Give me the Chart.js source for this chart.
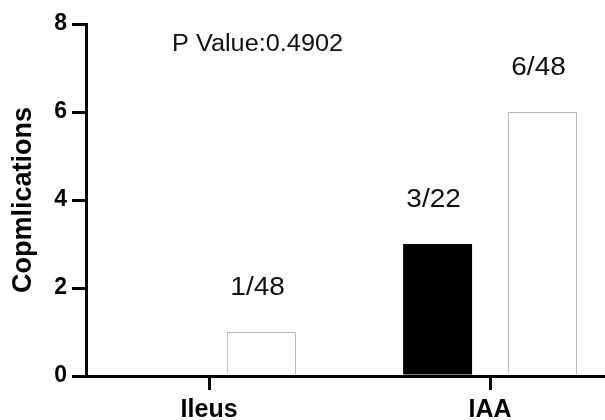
<!DOCTYPE html>
<html>
<head>
<meta charset="utf-8">
<script src="https://cdn.jsdelivr.net/npm/chart.js@4"></script>
<style>
  html, body { margin: 0; padding: 0; background: #fff; overflow: hidden; }
  #wrap { width: 605px; height: 436px; position: relative; }
</style>
</head>
<body>
<div id="wrap"><canvas id="chart"></canvas></div>
<script>
"use strict";

// ── Data ──
const CATEGORIES   = ["Ileus", "IAA"];
const BLACK_VALUES = [0, 3];
const WHITE_VALUES = [1, 6];
const BLACK_LABELS = ["", "3/22"];
const WHITE_LABELS = ["1/48", "6/48"];
const Y_TICKS      = [0, 2, 4, 6, 8];
const P_TEXT       = "P Value:0.4902";

const FONT = "Arial, 'Liberation Sans', sans-serif";

// ── text over the bars + p value note ──
const barTextPlugin = {
  id: "barText",
  afterDatasetsDraw(chart) {
    const ctx = chart.ctx;
    const area = chart.chartArea;
    ctx.save();
    ctx.fillStyle = "#111";
    ctx.textAlign = "center";
    ctx.textBaseline = "middle";
    ctx.font = "25px " + FONT;
    chart.data.datasets.forEach((ds, di) => {
      const meta = chart.getDatasetMeta(di);
      meta.data.forEach((bar, i) => {
        const txt = ds.barLabels[i];
        if (!txt) return;
        ctx.save();
        ctx.translate(bar.x - 4, bar.y - 44);
        ctx.scale(1.12, 1);
        ctx.fillText(txt, 0, 0);
        ctx.restore();
      });
    });
    ctx.save();
    ctx.textAlign = "left";
    ctx.font = "23px " + FONT;
    ctx.translate(area.left + 86, area.top + 21);
    ctx.scale(1.1, 1);
    ctx.fillText(P_TEXT, 0, 0);
    ctx.restore();
    ctx.restore();
  }
};

const chart = new Chart(document.getElementById("chart").getContext("2d"), {
  type: "bar",
  data: {
    labels: CATEGORIES.map((c, i) => i),
    datasets: [
      { data: BLACK_VALUES, barLabels: BLACK_LABELS, backgroundColor: "#000", borderWidth: 0 },
      { data: WHITE_VALUES, barLabels: WHITE_LABELS, backgroundColor: "#fff", borderColor: "#b5b5b5", borderWidth: 1 }
    ]
  },
  options: {
    responsive: true,
    maintainAspectRatio: false,
    animation: false,
    categoryPercentage: 0.747,
    barPercentage: 0.657,
    layout: { padding: { top: 24, right: 0, bottom: 0, left: 0 } },
    plugins: { legend: { display: false }, tooltip: { enabled: false } },
    scales: {
      x: {
        type: "linear",
        offset: false,
        min: -0.438,
        max: 1.409,
        afterBuildTicks: s => { s.ticks = CATEGORIES.map((c, i) => ({ value: i })); },
        afterFit: s => { s.height = 60; },
        ticks: {
          callback: v => CATEGORIES[v] ?? "",
          color: "#000",
          padding: 5,
          autoSkip: false,
          maxRotation: 0,
          font: { family: FONT, size: 25, weight: "bold" }
        },
        grid: {
          display: true, offset: false, drawOnChartArea: false, drawTicks: true,
          tickLength: 14, lineWidth: 3, color: "#000", tickColor: "#000", tickWidth: 3, z: 1
        },
        border: { display: true, color: "#000", width: 3, z: 1 }
      },
      y: {
        min: 0,
        max: 8,
        afterBuildTicks: s => { s.ticks = Y_TICKS.map(v => ({ value: v })); },
        afterFit: s => { s.width = 86; },
        ticks: { color: "#000", padding: 5, font: { family: FONT, size: 23, weight: "bold" } },
        grid: { display: true, drawOnChartArea: false, drawTicks: true, tickLength: 14, lineWidth: 3, color: "#000" },
        border: { display: true, color: "#000", width: 3, z: 1 },
        title: {
          display: true,
          text: "Copmlications",
          color: "#000",
          padding: { top: 7, bottom: 0 },
          font: { family: FONT, size: 27, weight: "bold" }
        }
      }
    }
  },
  plugins: [barTextPlugin]
});
</script>
</body>
</html>
